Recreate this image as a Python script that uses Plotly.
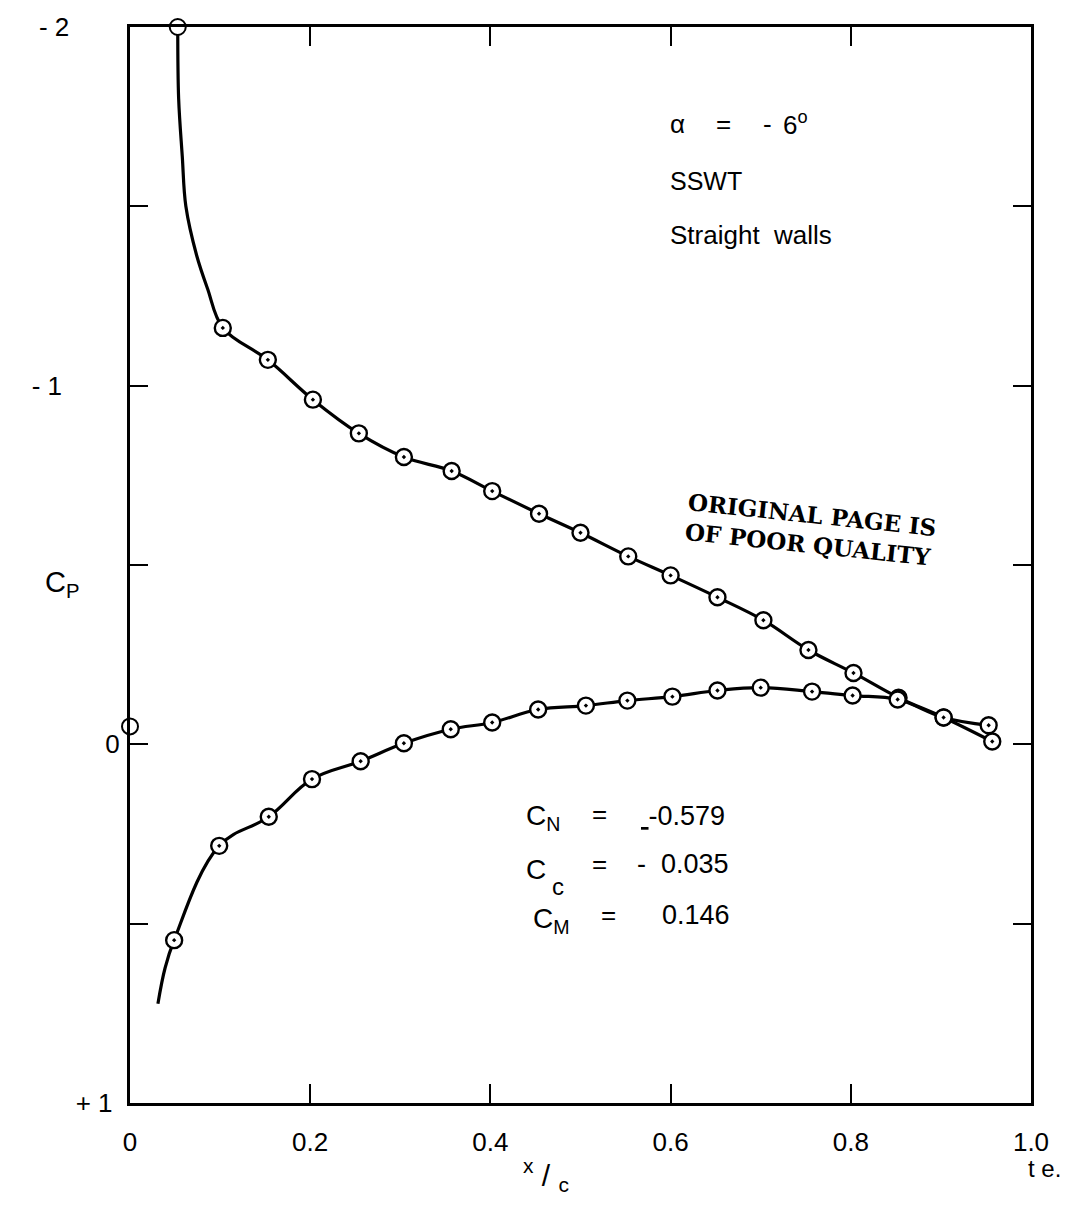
import plotly.graph_objects as go

# ---- data ----
# upper surface (suction side) measured points
upper_x = [0.103, 0.153, 0.203, 0.254, 0.304, 0.357, 0.402, 0.454, 0.500, 0.553,
           0.600, 0.652, 0.703, 0.753, 0.803, 0.853, 0.903, 0.957]
upper_cp = [-1.161, -1.072, -0.961, -0.867, -0.801, -0.762, -0.706, -0.643, -0.590, -0.524,
            -0.471, -0.410, -0.346, -0.263, -0.199, -0.130, -0.075, -0.008]
# faired curve near the leading edge (upper)
upper_le_x = [0.053, 0.054, 0.058, 0.062, 0.074, 0.086]
upper_le_cp = [-2.0, -1.80, -1.64, -1.50, -1.363, -1.271]

# lower surface measured points
lower_x = [0.049, 0.099, 0.154, 0.202, 0.256, 0.304, 0.356, 0.402, 0.453, 0.506,
           0.552, 0.602, 0.652, 0.700, 0.757, 0.802, 0.852, 0.903, 0.953]
lower_cp = [0.546, 0.283, 0.202, 0.097, 0.047, -0.003, -0.042, -0.061, -0.097, -0.108,
            -0.122, -0.133, -0.150, -0.158, -0.147, -0.136, -0.125, -0.075, -0.053]
# faired curve extension near the leading edge (lower)
lower_le_x = [0.031, 0.039]
lower_le_cp = [0.723, 0.623]

# open symbols (off-scale upper point and leading edge point)
open_x = [0.053, 0.0]
open_cp = [-2.0, -0.050]

x_tickvals = [0, 0.2, 0.4, 0.6, 0.8, 1.0]
x_ticktext = ["0", "0.2", "0.4", "0.6", "0.8", "1.0"]
y_tickvals = [-2, -1.5, -1, -0.5, 0, 0.5, 1]
y_ticktext = ["- 2", "", "- 1", "", "0", "", "+ 1"]

FONT = "Liberation Sans"
NB = "\u00a0"
y_pad = [NB * 7, "", NB * 8, "", "", "", NB * 1]
y_ticktext_padded = [t + p for t, p in zip(y_ticktext, y_pad)]

fig = go.Figure()

# faired curves
fig.add_trace(go.Scatter(
    x=upper_le_x + upper_x, y=upper_le_cp + upper_cp, mode="lines",
    line=dict(color="black", width=3.2, shape="spline", smoothing=1.0),
    hoverinfo="skip", showlegend=False))
fig.add_trace(go.Scatter(
    x=lower_le_x + lower_x, y=lower_le_cp + lower_cp, mode="lines",
    line=dict(color="black", width=3.2, shape="spline", smoothing=1.1),
    hoverinfo="skip", showlegend=False))

# measured points
mk = dict(symbol="circle-dot", size=16, color="white", line=dict(color="black", width=2.4))
fig.add_trace(go.Scatter(x=upper_x, y=upper_cp, mode="markers", marker=mk,
                         showlegend=False, cliponaxis=False))
fig.add_trace(go.Scatter(x=lower_x, y=lower_cp, mode="markers", marker=mk,
                         showlegend=False, cliponaxis=False))
fig.add_trace(go.Scatter(
    x=open_x, y=open_cp, mode="markers",
    marker=dict(symbol="circle", size=16, color="white", line=dict(color="black", width=2)),
    showlegend=False, cliponaxis=False))

txt = dict(family=FONT, size=26, color="black")


def T(x, y, s, size=26, anchor="left", **kw):
    return dict(x=x, y=y, text=s, xref="x", yref="y", showarrow=False,
                xanchor=anchor, yanchor="middle",
                font=dict(family=FONT, size=size, color="black"), **kw)


ann = [
    # conditions block
    T(0.597, -1.73, "α"),
    T(0.648, -1.73, "="),
    T(0.700, -1.73, "-"),
    T(0.722, -1.73, "6<sup>o</sup>"),
    T(0.597, -1.57, "SSWT", size=25),
    T(0.597, -1.42, "Straight" + NB + NB + "walls", size=26),
    # force coefficients
    T(0.437, 0.205, "C<sub>N</sub>", size=28),
    T(0.51, 0.195, "="),
    T(0.565, 0.2, "<u>" + NB + "</u>-0.579", size=27),
    T(0.437, 0.35, "C", size=28),
    T(0.466, 0.395, "c", size=24),
    T(0.51, 0.335, "="),
    T(0.56, 0.335, "-" + NB + NB + "0.035", size=27),
    T(0.445, 0.49, "C<sub>M</sub>", size=28),
    T(0.52, 0.475, "="),
    T(0.588, 0.475, "0.146", size=27),
    # stamp
    dict(x=0.755, y=-0.60, xref="x", yref="y", showarrow=False,
         text="<b>ORIGINAL PAGE IS<br>OF POOR QUALITY</b>",
         textangle=6, align="left",
         font=dict(family="DejaVu Serif", size=23, color="black")),
]

# axis titles
ann += [
    dict(x=-0.097, y=0.482, xref="paper", yref="paper", text="C<sub>P</sub>",
         showarrow=False, font=dict(family=FONT, size=29, color="black")),
    dict(x=0.462, y=-0.088, xref="paper", yref="paper",
         text="<sup>x</sup>" + NB + "/" + NB + "<sub>c</sub>",
         showarrow=False, font=dict(family=FONT, size=30, color="black")),
    dict(x=1.036, y=-0.075, xref="paper", yref="paper", text="t e.",
         showarrow=False, font=dict(family=FONT, size=24, color="black")),
]

fig.update_layout(
    width=1075, height=1217,
    margin=dict(l=130, r=44, t=21, b=114),
    paper_bgcolor="white", plot_bgcolor="white",
    annotations=ann,
    showlegend=False,
    xaxis=dict(range=[0, 1.0], tickvals=x_tickvals, ticktext=x_ticktext,
               ticks="inside", ticklen=19, tickwidth=2, tickcolor="black",
               showline=True, linewidth=3, linecolor="black", mirror="ticks",
               showgrid=False, zeroline=False, ticklabelstandoff=14,
               tickfont=dict(family=FONT, size=26, color="black")),
    yaxis=dict(range=[1, -2], tickvals=y_tickvals, ticktext=y_ticktext_padded,
               ticks="inside", ticklen=18, tickwidth=2, tickcolor="black",
               showline=True, linewidth=3, linecolor="black", mirror="ticks",
               showgrid=False, zeroline=False, ticklabelstandoff=2,
               tickfont=dict(family=FONT, size=26, color="black")),
)

fig.write_html("out.html")
